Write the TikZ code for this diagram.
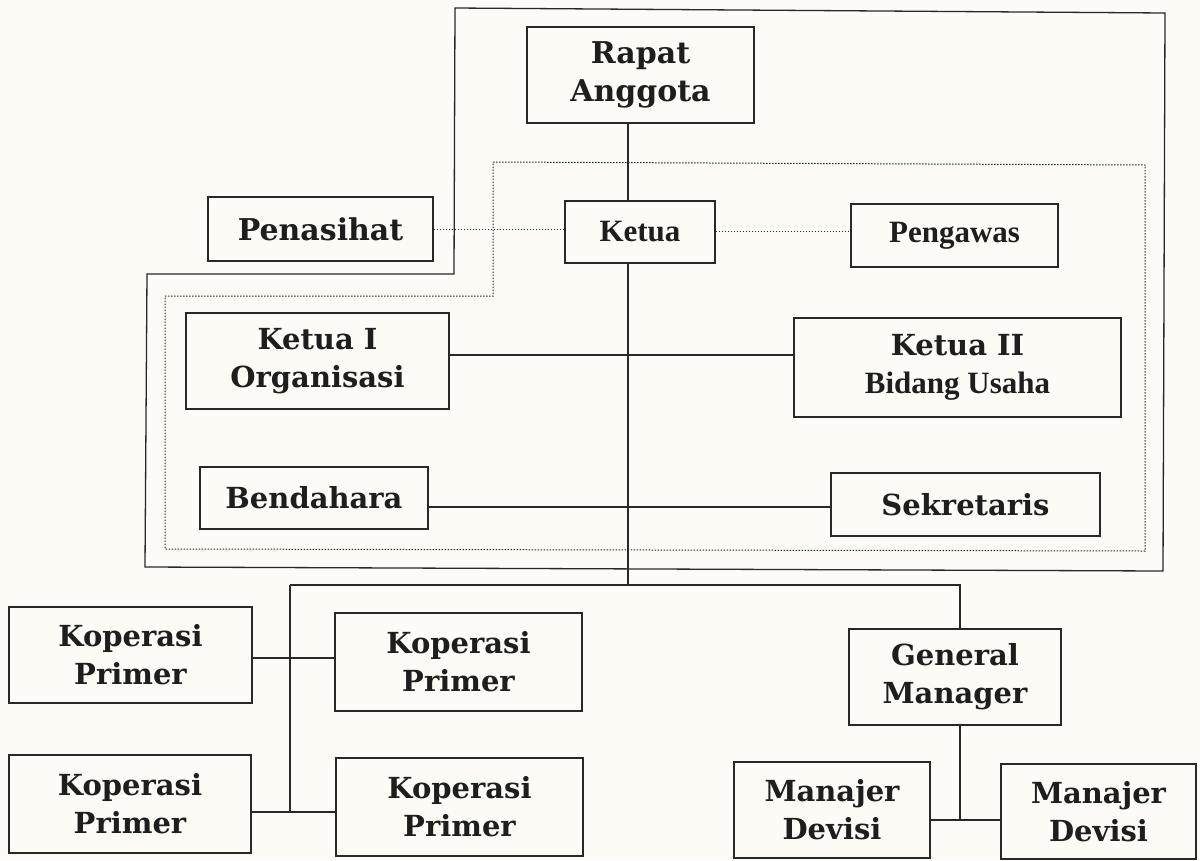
\documentclass[tikz,border=0pt]{standalone}
\usepackage{fontspec}
\setmainfont{DejaVu Serif}
\newfontfamily\timesfam{Liberation Serif}
\newcommand\slabtxt{\bfseries\fontsize{29}{38}\selectfont}
\newcommand\tmstxt{\timesfam\bfseries\fontsize{31}{38}\selectfont}
\definecolor{bgcol}{RGB}{252,251,246}
\definecolor{linecol}{RGB}{40,40,40}
\definecolor{txtcol}{RGB}{30,30,30}
\begin{document}
\begin{tikzpicture}[x=1pt,y=-1pt,
  box/.style={draw=linecol, line width=1.3pt, rectangle, inner sep=0pt, align=center, text=txtcol, font=\slabtxt},
  tbox/.style={box, font=\tmstxt},
  conn/.style={draw=linecol, line width=1.1pt},
  dotline/.style={draw=linecol, line width=1pt, dash pattern=on 1.5pt off 1.5pt},
  frame/.style={draw=linecol, line width=1.3pt}
]
\useasboundingbox (0,0) rectangle (1200,860);
\fill[bgcol] (0,0) rectangle (1200,860);

% outer solid frame and inner dotted frame
\draw[frame] (455,8) -- (1165,13) -- (1163,571) -- (145,567) -- (147,274) -- (454,274) -- cycle;
\draw[dotline] (493,162) -- (1145,165) -- (1145,551) -- (165,549) -- (165,296) -- (493,296) -- cycle;

% nodes
\node[box, minimum width=227pt, minimum height=96pt, font=\bfseries\fontsize{30}{38}\selectfont] (rapat) at (640.5,75) {Rapat\\Anggota};
\node[box, minimum width=225pt, minimum height=64pt, font=\bfseries\fontsize{30}{38}\selectfont] (penasihat) at (320.5,229) {Penasihat};
\node[tbox, minimum width=150pt, minimum height=62pt] (ketua) at (640,232) {Ketua};
\node[tbox, minimum width=207pt, minimum height=63pt] (pengawas) at (954.5,235.5) {Pengawas};
\node[box, minimum width=263pt, minimum height=96pt] (ketuaI) at (317.5,361) {Ketua I\\Organisasi};
\node[box, minimum width=327pt, minimum height=99pt] (ketuaII) at (957.5,367.5) {Ketua II\\{\tmstxt Bidang Usaha}};
\node[box, minimum width=228pt, minimum height=62pt] (bendahara) at (314,498) {Bendahara};
\node[box, minimum width=269pt, minimum height=63pt] (sekretaris) at (965.5,504.5) {Sekretaris};
\node[box, minimum width=243pt, minimum height=96pt] (kop1) at (130.5,655) {Koperasi\\Primer};
\node[box, minimum width=247pt, minimum height=98pt] (kop2) at (458.5,662) {Koperasi\\Primer};
\node[box, minimum width=242pt, minimum height=98pt] (kop3) at (130,804) {Koperasi\\Primer};
\node[box, minimum width=247pt, minimum height=98pt] (kop4) at (459.5,807) {Koperasi\\Primer};
\node[box, minimum width=212pt, minimum height=96pt] (gm) at (955,677) {General\\Manager};
\node[box, minimum width=196pt, minimum height=96pt] (md1) at (832,810) {Manajer\\Devisi};
\node[box, minimum width=195pt, minimum height=95pt] (md2) at (1098.5,811.5) {Manajer\\Devisi};

% helper coordinates
\coordinate (trunk) at (628,585);
\coordinate (busL) at (290,585);
\coordinate (busR) at (960,585);
\coordinate (kopLow) at (290,812);
\coordinate (mdJoin) at (960,820);

% dotted links
\draw[dotline] (penasihat.east) -- (penasihat.east -| ketua.west);
\draw[dotline] (ketua.east |- 0,231) -- (pengawas.west |- 0,231);

% trunk
\draw[conn] (rapat.south -| trunk) -- (ketua.north -| trunk);
\draw[conn] (ketua.south -| trunk) -- (trunk);

% board links
\draw[conn] (ketuaI.east |- 0,355) -- (ketuaII.west |- 0,355);
\draw[conn] (bendahara.east |- 0,507) -- (sekretaris.west |- 0,507);

% bottom bus
\draw[conn] (busL) -- (busR) -- (busR |- gm.north);
\draw[conn] (busL) -- (kopLow);
\draw[conn] (kop1.east |- 0,658) -- (kop2.west |- 0,658);
\draw[conn] (kop3.east |- kopLow) -- (kop4.west |- kopLow);
\draw[conn] (mdJoin |- gm.south) -- (mdJoin);
\draw[conn] (md1.east |- mdJoin) -- (md2.west |- mdJoin);
\end{tikzpicture}
\end{document}
